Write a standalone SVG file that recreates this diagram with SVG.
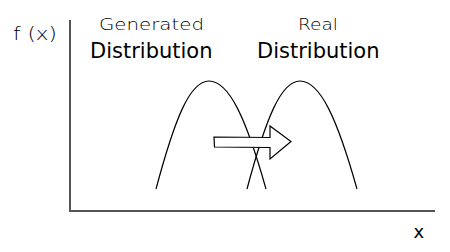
<svg xmlns="http://www.w3.org/2000/svg" width="450" height="252" viewBox="0 0 450 252">
  <style>
    .axis { stroke: #555; stroke-width: 2; fill: none; }
    .curve { stroke: #000; stroke-width: 1.2; fill: none; }
    .hand { font-family: "DejaVu Sans", "Liberation Sans", sans-serif; font-weight: 200; font-size: 16px; fill: #000; }
    .title { font-family: "DejaVu Sans", "Liberation Sans", sans-serif; font-size: 21px; fill: #000; }
    .axis-label { font-size: 18px; }
    .var-label { font-size: 18px; }
    .arrow { fill: #fff; stroke: #000; stroke-width: 1.2; stroke-linejoin: miter; }
  </style>
  <rect width="450" height="252" fill="#fff"/>

  <!-- axes -->
  <g id="axes">
    <line class="axis" x1="70" y1="20" x2="70" y2="212"/>
    <line class="axis" x1="69" y1="211" x2="435" y2="211"/>
    <text class="hand axis-label" x="13" y="40" textLength="44" lengthAdjust="spacingAndGlyphs">f (x)</text>
    <text class="title var-label" x="413.5" y="238">x</text>
  </g>

  <!-- density curves -->
  <g id="generated">
    <path class="curve" d="M156,189 C175,118 190,81 209,81 C229,81 246,118 266,189"/>
    <text class="hand" x="99" y="30" textLength="105" lengthAdjust="spacingAndGlyphs">Generated</text>
    <text class="title" x="90" y="58">Distribution</text>
  </g>
  <g id="real">
    <path class="curve" d="M247,189 C266,118 281,81 300,81 C320,81 337,118 357,189"/>
    <text class="hand" x="298" y="30" textLength="40" lengthAdjust="spacingAndGlyphs">Real</text>
    <text class="title" x="257" y="58">Distribution</text>
  </g>

  <!-- shift arrow -->
  <g id="shift">
    <path class="arrow" d="M214,137 L270,137.5 L270,126 L291,141.5 L270,159 L270,147.5 L214.5,147 Z"/>
  </g>
</svg>
